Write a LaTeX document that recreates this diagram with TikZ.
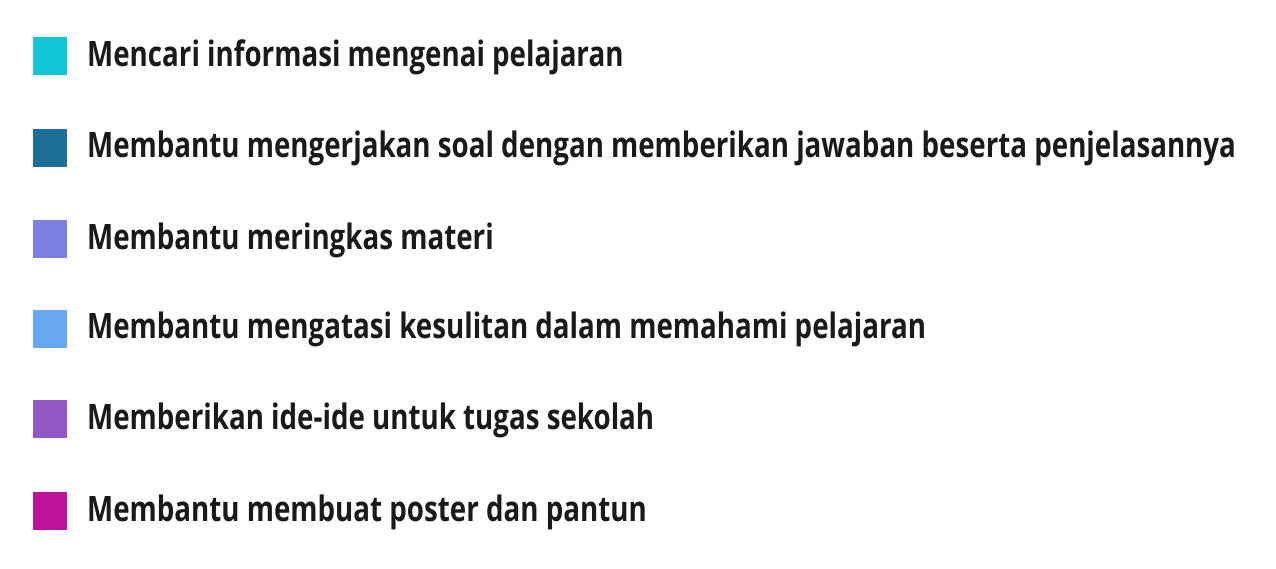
\documentclass[tikz,border=0pt]{standalone}
\usepackage{fontspec}
\setmainfont{Open Sans}[FakeStretch=0.792,BoldFont={* Bold},BoldFeatures={FakeStretch=0.792}]
\definecolor{cA}{HTML}{12C6D6}
\definecolor{cB}{HTML}{1B6F98}
\definecolor{cC}{HTML}{7B80E2}
\definecolor{cD}{HTML}{66A8F2}
\definecolor{cE}{HTML}{9457C6}
\definecolor{cF}{HTML}{BF1499}
\definecolor{txt}{HTML}{1A1A1A}
\tikzset{
  swatch/.style={minimum width=34pt,minimum height=38pt,inner sep=0pt,outer sep=0pt},
  label/.style={anchor=base west,inner sep=0pt,text=txt,font=\fontsize{35}{40}\selectfont\bfseries}
}
\begin{document}
\begin{tikzpicture}[x=1pt,y=-1pt]
\useasboundingbox[fill=white] (0,0) rectangle (1276,568);
\node[swatch,fill=cA] (s1) at (50,56) {};
\node[swatch,fill=cB] (s2) at (50,147.5) {};
\node[swatch,fill=cC] (s3) at (50,239) {};
\node[swatch,fill=cD] (s4) at (50,328.5) {};
\node[swatch,fill=cE] (s5) at (50,419) {};
\node[swatch,fill=cF] (s6) at (50,511) {};
\node[label] (t1) at (87,66) {Mencari informasi mengenai pelajaran};
\node[label] (t2) at (87,157.5) {Membantu mengerjakan soal dengan memberikan jawaban beserta penjelasannya};
\node[label] (t3) at (87,249) {Membantu meringkas materi};
\node[label] (t4) at (87,338.5) {Membantu mengatasi kesulitan dalam memahami pelajaran};
\node[label] (t5) at (87,429) {Memberikan ide-ide untuk tugas sekolah};
\node[label] (t6) at (87,521) {Membantu membuat poster dan pantun};
\end{tikzpicture}
\end{document}
